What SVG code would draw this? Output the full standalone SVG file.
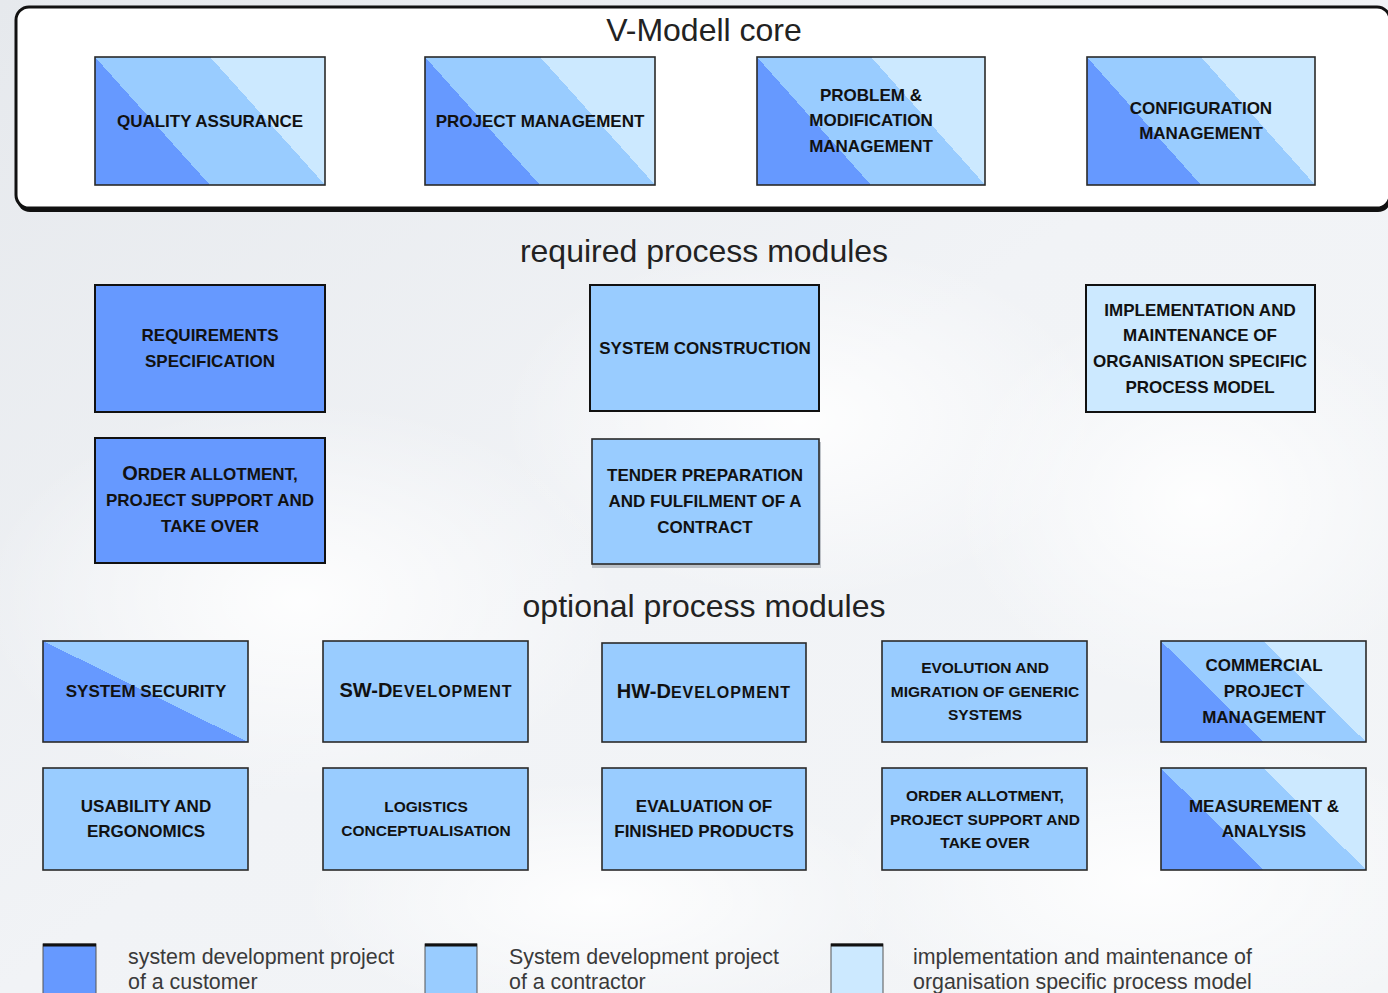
<svg xmlns="http://www.w3.org/2000/svg" width="1388" height="993" viewBox="0 0 1388 993">
<defs>
<linearGradient id="bg" x1="0" y1="0" x2="1" y2="1">
<stop offset="0" stop-color="#E6E9ED"/>
<stop offset="0.5" stop-color="#F1F3F6"/>
<stop offset="1" stop-color="#F3F5F7"/>
</linearGradient>
<radialGradient id="cloud" cx="0.5" cy="0.5" r="0.5">
<stop offset="0" stop-color="#FFFFFF" stop-opacity="0.9"/>
<stop offset="1" stop-color="#FFFFFF" stop-opacity="0"/>
</radialGradient>
<linearGradient id="tri" x1="0" y1="1" x2="1.2" y2="0.4">
<stop offset="0" stop-color="#6699FF"/>
<stop offset="0.333" stop-color="#6699FF"/>
<stop offset="0.333" stop-color="#99CCFF"/>
<stop offset="0.667" stop-color="#99CCFF"/>
<stop offset="0.667" stop-color="#CCE9FF"/>
<stop offset="1" stop-color="#CCE9FF"/>
</linearGradient>
<linearGradient id="duo" x1="0" y1="1" x2="1" y2="0">
<stop offset="0" stop-color="#6699FF"/>
<stop offset="0.5" stop-color="#6699FF"/>
<stop offset="0.5" stop-color="#99CCFF"/>
<stop offset="1" stop-color="#99CCFF"/>
</linearGradient>
<style>
.title{font-family:"Liberation Sans",Arial,sans-serif;font-size:32px;fill:#222;text-anchor:middle}
.lbl{font-family:"Liberation Sans",Arial,sans-serif;font-weight:bold;font-size:17px;fill:#111;text-anchor:middle}
.sm{font-size:15.5px}
.sc{font-size:20px}
.scs{font-size:16px;letter-spacing:1px}
.leg{font-family:"Liberation Sans",Arial,sans-serif;font-size:21.4px;fill:#3a3a3a}
.box{stroke:#2a2a2a;stroke-width:1.6}
.req{stroke:#111;stroke-width:2}
.dark{fill:#6699FF}
.mid{fill:#99CCFF}
.light{fill:#CCE9FF}
.tri{fill:url(#tri)}
.duo{fill:url(#duo)}
.shadow{fill:#9aa0a8;opacity:0.6}
</style>
</defs>

<g id="background">
<rect width="1388" height="993" fill="url(#bg)"/>
<ellipse cx="300" cy="600" rx="320" ry="200" fill="url(#cloud)"/>
<ellipse cx="800" cy="420" rx="300" ry="180" fill="url(#cloud)"/>
<ellipse cx="1150" cy="880" rx="320" ry="160" fill="url(#cloud)"/>
<ellipse cx="600" cy="900" rx="300" ry="120" fill="url(#cloud)"/>
<ellipse cx="1200" cy="500" rx="250" ry="200" fill="url(#cloud)"/>
</g>

<g id="core">
<rect x="17" y="10" width="1374" height="202" rx="13" fill="#111"/>
<rect x="16" y="7" width="1374" height="201" rx="13" fill="#FFFFFF" stroke="#111" stroke-width="3"/>
<text class="title" x="704" y="41">V-Modell core</text>
</g>

<g id="core-quality-assurance">
<rect class="box tri" x="95" y="57" width="230" height="128"/>
<text class="lbl" x="210" y="127">QUALITY ASSURANCE</text>
</g>
<g id="core-project-management">
<rect class="box tri" x="425" y="57" width="230" height="128"/>
<text class="lbl" x="540" y="127">PROJECT MANAGEMENT</text>
</g>
<g id="core-problem-modification">
<rect class="box tri" x="757" y="57" width="228" height="128"/>
<text class="lbl" x="871" y="101">PROBLEM &amp;</text>
<text class="lbl" x="871" y="126">MODIFICATION</text>
<text class="lbl" x="871" y="152">MANAGEMENT</text>
</g>
<g id="core-configuration-management">
<rect class="box tri" x="1087" y="57" width="228" height="128"/>
<text class="lbl" x="1201" y="114">CONFIGURATION</text>
<text class="lbl" x="1201" y="139">MANAGEMENT</text>
</g>

<g id="required-title">
<text class="title" x="704" y="262">required process modules</text>
</g>

<g id="req-requirements-specification">
<rect class="req dark" x="95" y="285" width="230" height="127"/>
<text class="lbl" x="210" y="341">REQUIREMENTS</text>
<text class="lbl" x="210" y="367">SPECIFICATION</text>
</g>
<g id="req-system-construction">
<rect class="req mid" x="590" y="285" width="229" height="126"/>
<text class="lbl" x="705" y="354">SYSTEM CONSTRUCTION</text>
</g>
<g id="req-implementation-maintenance">
<rect class="req light" x="1086" y="285" width="229" height="127"/>
<text class="lbl" x="1200" y="316">IMPLEMENTATION AND</text>
<text class="lbl" x="1200" y="341">MAINTENANCE OF</text>
<text class="lbl" x="1200" y="367">ORGANISATION SPECIFIC</text>
<text class="lbl" x="1200" y="393">PROCESS MODEL</text>
</g>
<g id="req-order-allotment">
<rect class="req dark" x="95" y="438" width="230" height="125"/>
<text class="lbl" x="210" y="480"><tspan font-size="20">O</tspan>RDER ALLOTMENT,</text>
<text class="lbl" x="210" y="506">PROJECT SUPPORT AND</text>
<text class="lbl" x="210" y="532">TAKE OVER</text>
</g>
<g id="req-tender-preparation">
<rect class="shadow" x="592" y="442" width="229" height="126"/>
<rect class="box mid" x="592" y="439" width="227" height="125"/>
<text class="lbl" x="705" y="481">TENDER PREPARATION</text>
<text class="lbl" x="705" y="507">AND FULFILMENT OF A</text>
<text class="lbl" x="705" y="533">CONTRACT</text>
</g>

<g id="optional-title">
<text class="title" x="704" y="617">optional process modules</text>
</g>

<g id="opt-system-security">
<rect class="box duo" x="43" y="641" width="205" height="101"/>
<text class="lbl" x="146" y="697">SYSTEM SECURITY</text>
</g>
<g id="opt-sw-development">
<rect class="box mid" x="323" y="641" width="205" height="101"/>
<text class="lbl" x="426" y="697"><tspan class="sc">SW-D</tspan><tspan class="scs">EVELOPMENT</tspan></text>
</g>
<g id="opt-hw-development">
<rect class="box mid" x="602" y="643" width="204" height="99"/>
<text class="lbl" x="704" y="698"><tspan class="sc">HW-D</tspan><tspan class="scs">EVELOPMENT</tspan></text>
</g>
<g id="opt-evolution-migration">
<rect class="box mid" x="882" y="641" width="205" height="101"/>
<text class="lbl sm" x="985" y="673">EVOLUTION AND</text>
<text class="lbl sm" x="985" y="697">MIGRATION OF GENERIC</text>
<text class="lbl sm" x="985" y="720">SYSTEMS</text>
</g>
<g id="opt-commercial-pm">
<rect class="box tri" x="1161" y="641" width="205" height="101"/>
<text class="lbl" x="1264" y="671">COMMERCIAL</text>
<text class="lbl" x="1264" y="697">PROJECT</text>
<text class="lbl" x="1264" y="723">MANAGEMENT</text>
</g>
<g id="opt-usability">
<rect class="box mid" x="43" y="768" width="205" height="102"/>
<text class="lbl" x="146" y="812">USABILITY AND</text>
<text class="lbl" x="146" y="837">ERGONOMICS</text>
</g>
<g id="opt-logistics">
<rect class="box mid" x="323" y="768" width="205" height="102"/>
<text class="lbl sm" x="426" y="812">LOGISTICS</text>
<text class="lbl sm" x="426" y="836">CONCEPTUALISATION</text>
</g>
<g id="opt-evaluation">
<rect class="box mid" x="602" y="768" width="204" height="102"/>
<text class="lbl" x="704" y="812">EVALUATION OF</text>
<text class="lbl" x="704" y="837">FINISHED PRODUCTS</text>
</g>
<g id="opt-order-allotment">
<rect class="box mid" x="882" y="768" width="205" height="102"/>
<text class="lbl sm" x="985" y="801">ORDER ALLOTMENT,</text>
<text class="lbl sm" x="985" y="825">PROJECT SUPPORT AND</text>
<text class="lbl sm" x="985" y="848">TAKE OVER</text>
</g>
<g id="opt-measurement-analysis">
<rect class="box tri" x="1161" y="768" width="205" height="102"/>
<text class="lbl" x="1264" y="812">MEASUREMENT &amp;</text>
<text class="lbl" x="1264" y="837">ANALYSIS</text>
</g>

<g id="legend-customer">
<rect class="dark" x="43" y="944" width="53" height="60" stroke="#555" stroke-width="1"/>
<line x1="43" y1="945" x2="96" y2="945" stroke="#111" stroke-width="3"/>
<text class="leg" x="128" y="964">system development project</text>
<text class="leg" x="128" y="989">of a customer</text>
</g>
<g id="legend-contractor">
<rect class="mid" x="425" y="944" width="52" height="60" stroke="#555" stroke-width="1"/>
<line x1="425" y1="945" x2="477" y2="945" stroke="#111" stroke-width="3"/>
<text class="leg" x="509" y="964">System development project</text>
<text class="leg" x="509" y="989">of a contractor</text>
</g>
<g id="legend-organisation">
<rect class="light" x="831" y="944" width="52" height="60" stroke="#555" stroke-width="1"/>
<line x1="831" y1="945" x2="883" y2="945" stroke="#111" stroke-width="3"/>
<text class="leg" x="913" y="964">implementation and maintenance of</text>
<text class="leg" x="913" y="989">organisation specific process model</text>
</g>

<g id="connectors"></g>
</svg>
